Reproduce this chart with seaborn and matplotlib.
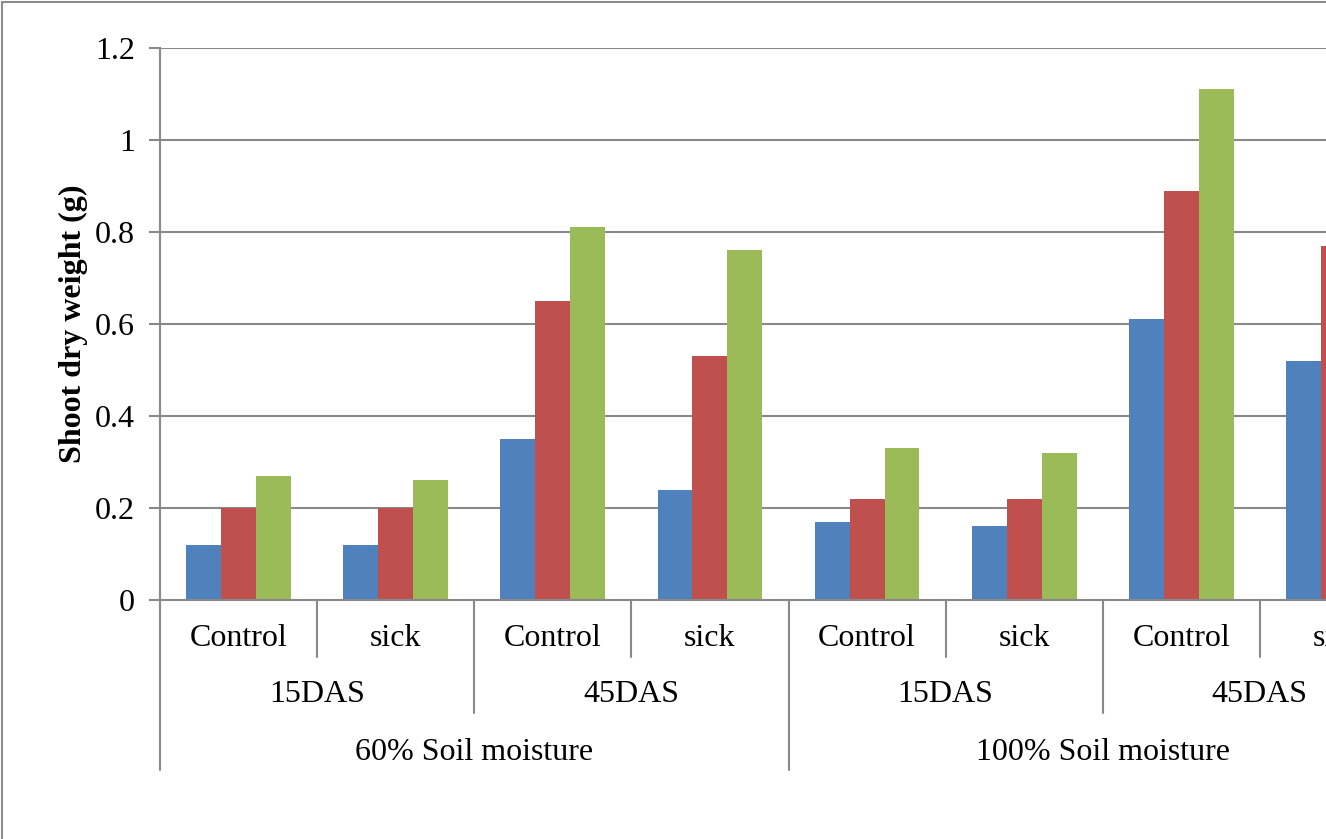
import numpy as np
import pandas as pd
import matplotlib
matplotlib.use("Agg")
import matplotlib.pyplot as plt
import seaborn as sns

# Group labels along the three-level category axis
moisture = ["60% Soil moisture", "100% Soil moisture"]
stages = ["15DAS", "45DAS"]
treatments = ["Control", "sick"]
series = ["S1", "S2", "S3"]

# Shoot dry weight (g) per category, one list per series
s1 = [0.12, 0.12, 0.35, 0.24, 0.17, 0.16, 0.61, 0.52]
s2 = [0.20, 0.20, 0.65, 0.53, 0.22, 0.22, 0.89, 0.77]
s3 = [0.27, 0.26, 0.81, 0.76, 0.33, 0.32, 1.11, 0.98]

yticks = [0, 0.2, 0.4, 0.6, 0.8, 1, 1.2]
ytick_labels = ["0", "0.2", "0.4", "0.6", "0.8", "1", "1.2"]

colors = ["#4F81BD", "#C0504D", "#9BBB59"]
grid_color = "#898989"
FS = 23

sns.set_theme(style="white")
plt.rcParams["font.family"] = ["Liberation Serif", "DejaVu Serif"]
plt.rcParams["text.color"] = "black"
plt.rcParams["axes.labelcolor"] = "black"
plt.rcParams["ytick.labelcolor"] = "black"

n_cat = len(s1)
cat_idx = list(range(n_cat))
df = pd.DataFrame({
    "cat": cat_idx * 3,
    "series": [series[0]] * n_cat + [series[1]] * n_cat + [series[2]] * n_cat,
    "value": s1 + s2 + s3,
})

W, H = 1326, 839
fig = plt.figure(figsize=(W / 100, H / 100), dpi=100)
fig.patch.set_facecolor("white")

# plot area: x 160..1417 px, y 48..600 px (extends past the right edge)
left, right, top, bottom = 160, 1417, 48, 600
ax = fig.add_axes([left / W, 1 - bottom / H, (right - left) / W, (bottom - top) / H])

sns.barplot(data=df, x="cat", y="value", hue="series", palette=colors,
            width=0.667, saturation=1, ax=ax, legend=False, linewidth=0,
            order=cat_idx)

ax.set_xlim(-0.5, n_cat - 0.5)
ax.set_ylim(0, 1.2)
ax.set_yticks(yticks)
ax.set_yticklabels(ytick_labels, fontsize=FS, color="black")
ax.set_xticks([])
ax.set_xlabel("")
ax.set_ylabel("Shoot dry weight (g)", fontsize=FS, fontweight="bold",
              labelpad=5, color="black")

for y in yticks[1:]:
    ax.axhline(y, color=grid_color, lw=1.5, zorder=0)

for sp in ["top", "right"]:
    ax.spines[sp].set_visible(False)
for sp in ["left", "bottom"]:
    ax.spines[sp].set_color(grid_color)
    ax.spines[sp].set_linewidth(1.5)
ax.tick_params(axis="y", length=8, width=1.5, color=grid_color, pad=10,
               left=True, labelcolor="black")

# multi-level category axis below the plot
trans = ax.get_xaxis_transform()
ah = bottom - top
row1 = -57 / ah
row2 = -113 / ah
row3 = -170 / ah

for i in range(n_cat + 1):
    b = i - 0.5
    if i % 4 == 0:
        depth = row3
    elif i % 2 == 0:
        depth = row2
    else:
        depth = row1
    ax.plot([b, b], [0, depth], transform=trans, color=grid_color, lw=1.5,
            clip_on=False)

for i in range(n_cat):
    ax.text(i, -39 / ah, treatments[i % 2], transform=trans, ha="center",
            va="center", fontsize=FS, color="black")
for j in range(n_cat // 2):
    ax.text(2 * j + 0.5, -95 / ah, stages[j % 2], transform=trans, ha="center",
            va="center", fontsize=FS, color="black")
for k in range(n_cat // 4):
    ax.text(4 * k + 1.5, -152 / ah, moisture[k], transform=trans, ha="center",
            va="center", fontsize=FS, color="black")

# chart border (top and left edges fall inside the canvas)
fig.add_artist(plt.Line2D([2 / W, 2 / W], [0, 1 - 2 / H], color="#8c8c8c", lw=1.5,
                          transform=fig.transFigure))
fig.add_artist(plt.Line2D([2 / W, 1], [1 - 2 / H, 1 - 2 / H], color="#8c8c8c", lw=1.5,
                          transform=fig.transFigure))

fig.savefig("out.png", dpi=100, facecolor="white")
